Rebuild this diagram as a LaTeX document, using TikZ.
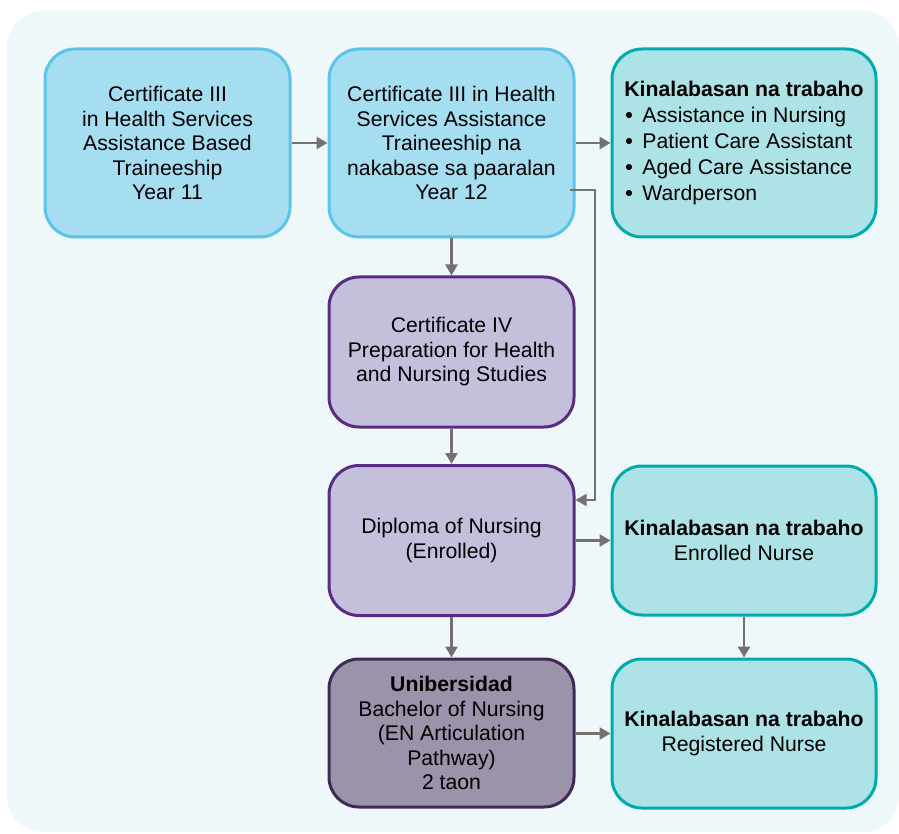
\documentclass[tikz,border=0pt]{standalone}
\usepackage{fontspec}
\setmainfont{Liberation Sans}
\usetikzlibrary{arrows.meta}
\definecolor{bgc}{HTML}{EEF8FB}
\definecolor{lbfill}{HTML}{A6DEF1}
\definecolor{lbdraw}{HTML}{5BC4E8}
\definecolor{pfill}{HTML}{C4BFDB}
\definecolor{pdraw}{HTML}{582C83}
\definecolor{ufill}{HTML}{9A93A9}
\definecolor{udraw}{HTML}{3F2A56}
\definecolor{tfill}{HTML}{ADE3E6}
\definecolor{tdraw}{HTML}{00ABAB}
\definecolor{arr}{HTML}{767171}
\tikzset{
  box/.style={rounded corners=30pt, line width=3pt, align=center, inner sep=0pt,
    minimum width=245pt, font=\fontsize{21.2}{24.5}\selectfont},
  bluebox/.style={box, fill=lbfill, draw=lbdraw, minimum height=188pt},
  purpbox/.style={box, fill=pfill, draw=pdraw, minimum height=150pt},
  unibox/.style={box, fill=ufill, draw=udraw, minimum height=148pt},
  tealbox/.style={box, fill=tfill, draw=tdraw, minimum width=264pt},
  conn/.style={draw=arr, line width=2.5pt, -{Triangle[length=11pt,width=12pt]}},
  connl/.style={draw=arr, line width=2pt, -{Triangle[length=11pt,width=12pt]}},
}
\newcommand{\bul}[1]{\makebox[18pt][l]{\hspace{1pt}\textbf{•}}#1}
\begin{document}
\begin{tikzpicture}[x=1pt,y=-1pt]
\useasboundingbox (0,0) rectangle (899,834);
\fill[bgc, rounded corners=36pt] (7,11) rectangle (899,832);
\node[bluebox] (A) at (167.5,143) {Certificate III\\in Health Services\\Assistance Based\\Traineeship\\Year 11};
\node[bluebox] (B) at (451.5,143) {Certificate III in Health\\Services Assistance\\Traineeship na\\nakabase sa paaralan\\Year 12};
\node[tealbox, minimum height=188pt, align=left, font=\fontsize{21.2}{26}\selectfont] (C) at (744,143) {\textbf{Kinalabasan na trabaho}\\\bul{Assistance in Nursing}\\\bul{Patient Care Assistant}\\\bul{Aged Care Assistance}\\\bul{Wardperson}};
\node[purpbox] (D) at (451.5,352) {Certificate IV\\Preparation for Health\\and Nursing Studies};
\node[purpbox] (E) at (451.5,540.5) {Diploma of Nursing\\(Enrolled)};
\node[tealbox, minimum height=149pt] (F) at (744,540.5) {\textbf{Kinalabasan na trabaho}\\Enrolled Nurse};
\node[unibox] (G) at (451.5,733) {\textbf{Unibersidad}\\Bachelor of Nursing\\(EN Articulation\\Pathway)\\2 taon};
\node[tealbox, minimum height=149pt] (H) at (744,733.5) {\textbf{Kinalabasan na trabaho}\\Registered Nurse};
\draw[conn] (A) -- (B);
\draw[conn] (B) -- (C);
\draw[conn] (B) -- (D);
\draw[conn] (D) -- (E);
\draw[conn] (E) -- (G);
\draw[conn] (E) -- (F);
\draw[conn] (F) -- (H);
\draw[conn] (G.east |- H.west) -- (H.west);
\coordinate (bx) at (570,190);
\coordinate (ein) at (575.5,500);
\draw[connl] (bx) -- (595,190) |- (ein);
\end{tikzpicture}
\end{document}
